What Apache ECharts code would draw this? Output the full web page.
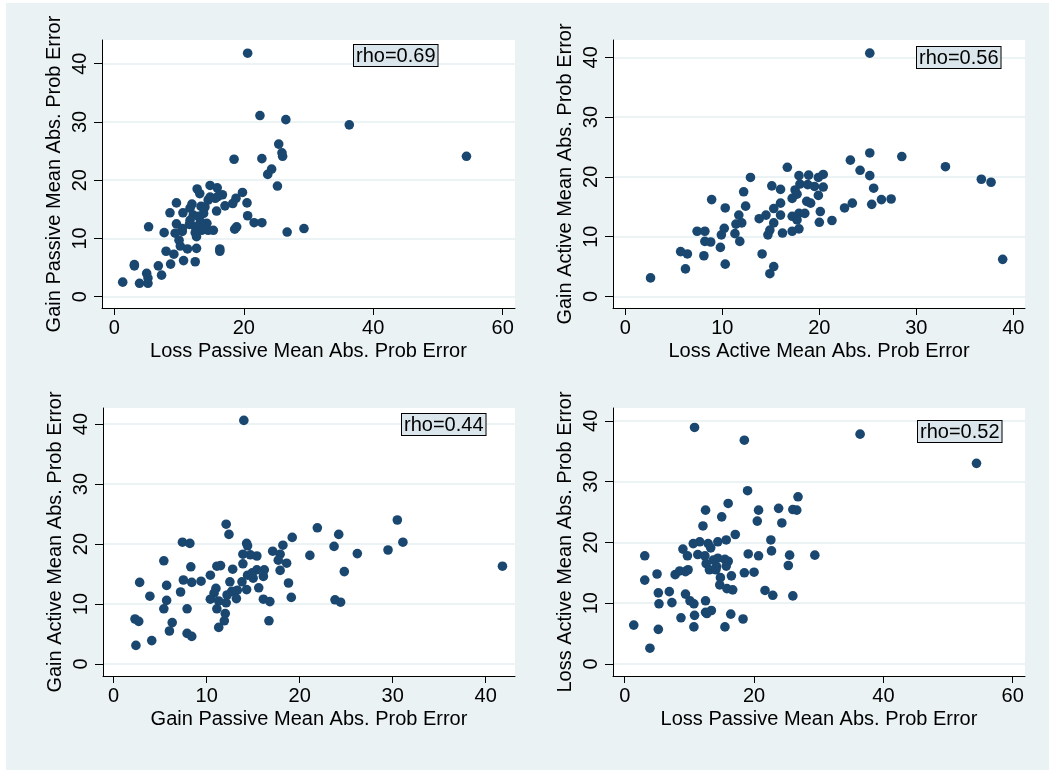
<!DOCTYPE html>
<html><head><meta charset="utf-8">
<script src="https://cdn.jsdelivr.net/npm/echarts@6/dist/echarts.min.js"></script>
<style>html,body{margin:0;padding:0;background:#fff}#c{width:1049px;height:770px}</style>
</head><body><div id="c"></div><script>
// Panel 1: Loss Passive (x) vs Gain Passive (y)
const p1x=[20.6,22.5,26.5,36.3,54.4,25.4,25.9,26.0,18.5,22.8,24.3,23.7,25.2,26.7,29.3,20.5,20.6,21.6,22.8,19.8,18.8,18.3,18.6,18.9,16.3,16.3,14.8,15.9,16.7,12.8,13.2,14.5,15.6,17.1,15.8,12.0,9.6,8.6,10.6,11.7,12.2,13.4,13.8,13.3,12.5,14.3,15.3,13.5,12.7,9.6,10.5,7.7,9.4,10.0,5.3,10.2,11.3,12.7,8.0,9.2,8.7,10.7,12.5,6.8,7.3,3.1,3.1,5.0,3.9,5.2,1.3,5.2,11.7,13.0,13.5,14.5,12.5,11.6,10.5,14.0,14.8,16.0];
const p1y=[41.8,31.1,30.4,29.5,24.1,26.2,24.7,24.1,23.6,23.7,21.9,21.0,19.0,11.1,11.7,16.1,13.9,12.7,12.7,17.9,16.9,16.0,11.6,12.0,8.2,7.8,19.1,18.7,17.5,18.5,17.7,16.6,16.9,15.6,14.7,15.9,16.1,14.4,14.4,15.2,14.0,15.5,14.3,12.9,12.0,12.6,11.4,11.4,10.3,12.5,11.7,11.0,10.9,9.7,12.0,8.7,8.2,8.3,7.8,7.3,5.6,6.2,6.0,5.3,3.7,5.5,5.3,4.0,2.3,2.3,2.5,3.2,13.1,13.8,12.5,11.4,11.0,12.4,11.2,15.4,17.1,17.2];
// Panel 2: Loss Active (x) vs Gain Active (y)
const p2x=[25.2,25.2,28.5,33.0,36.7,37.7,38.9,23.2,24.2,25.2,25.6,25.4,26.4,27.4,22.6,23.4,16.7,17.9,18.9,19.9,20.4,19.5,20.4,19.9,18.0,17.7,15.1,16.0,17.2,18.7,19.1,20.1,20.0,21.3,16.0,15.3,14.5,13.8,16.0,17.2,17.9,18.5,17.7,15.3,14.9,14.7,16.2,17.2,17.9,12.9,12.2,12.4,10.3,11.7,12.0,11.4,11.3,11.8,10.2,9.9,9.8,8.9,7.4,8.2,8.2,8.8,5.7,6.4,8.1,6.2,10.3,14.1,15.3,14.9,2.6,18.8,17.5];
const p2y=[40.7,24.0,23.4,21.7,19.6,19.1,6.2,22.8,21.1,20.2,18.1,15.4,16.2,16.3,14.8,15.6,21.6,20.2,20.3,19.9,20.4,18.4,18.3,16.9,18.8,17.1,18.5,17.9,16.4,15.9,15.6,14.2,12.4,12.7,15.6,14.7,13.6,13.0,13.6,13.4,13.9,13.9,12.8,12.3,11.1,10.3,10.6,10.9,11.3,19.9,17.5,15.1,14.8,13.6,12.3,12.1,10.5,9.2,11.4,10.3,8.2,16.2,10.9,10.9,9.2,9.1,7.5,7.1,6.8,4.6,5.4,7.1,5.0,3.8,3.1,18.7,17.8];
// Panel 3: Gain Passive (x) vs Gain Active (y)
const p3x=[14.0,41.8,30.5,31.1,29.5,26.2,24.8,23.8,24.4,21.9,24.2,23.7,21.1,19.2,18.2,17.1,17.9,17.7,18.6,17.9,18.8,19.1,16.7,16.8,16.1,15.6,16.2,16.1,15.4,15.0,15.4,14.7,13.9,14.3,14.4,13.9,12.1,12.4,11.1,11.5,12.8,10.4,14.4,13.8,12.5,14.3,13.3,12.7,12.2,11.0,10.8,10.4,11.3,12.1,13.2,11.1,12.0,11.9,11.3,9.4,8.3,8.4,7.5,7.4,8.2,5.4,5.7,7.2,5.7,5.4,7.9,6.3,6.0,7.9,8.4,2.8,3.9,2.3,2.7,4.1,2.4,14.9];
const p3y=[40.6,16.3,24.0,20.3,19.0,18.4,15.4,10.7,10.3,22.7,21.6,19.6,18.1,21.1,19.8,18.8,18.3,17.3,16.8,15.6,13.5,11.1,7.2,10.4,10.8,12.7,15.7,14.6,15.7,14.3,18.0,18.2,18.3,20.1,19.7,16.7,23.3,21.6,16.3,16.4,15.8,14.8,14.8,13.7,13.7,12.4,12.3,12.1,11.5,12.6,11.8,10.8,10.5,10.2,10.9,9.2,8.4,7.2,6.1,13.8,16.2,13.6,14.0,20.3,20.1,17.2,13.1,12.0,10.6,9.2,9.2,6.9,5.5,5.1,4.6,13.6,11.3,7.5,7.1,3.9,3.1,15.2];
// Panel 4: Loss Passive (x) vs Loss Active (y)
const p4x=[10.8,18.5,36.4,54.4,19.0,26.8,16.0,12.5,20.7,23.8,26.0,26.6,15.0,20.5,24.3,12.1,17.1,22.6,15.7,14.4,12.9,11.6,10.6,13.3,9.0,9.7,11.3,12.4,19.1,20.7,22.7,25.5,29.4,25.3,3.1,3.1,5.0,5.2,6.9,5.3,7.3,7.8,8.5,9.8,9.4,9.4,10.1,10.7,12.5,12.5,13.4,12.7,10.8,8.7,10.7,15.5,16.4,18.3,5.2,1.4,3.9,12.6,13.7,14.4,15.5,16.0,13.1,14.2,15.7,16.5,14.8,14.7,15.8,16.7,18.5,20.0,21.7,22.9,26.0,14.1];
const p4y=[38.9,36.8,37.8,33.0,28.5,27.5,26.4,25.3,25.3,25.6,25.4,25.3,24.2,23.5,23.2,22.7,21.3,20.4,20.4,20.1,19.8,20.1,19.8,19.1,18.9,17.8,18.0,17.8,18.1,17.8,18.6,17.9,17.9,16.2,17.8,13.8,14.8,11.7,11.9,9.9,10.1,14.7,15.3,15.5,15.2,11.5,10.4,9.9,10.4,8.5,8.8,8.3,8.0,7.6,6.1,6.1,8.2,7.4,5.7,6.4,2.6,16.5,17.1,17.4,17.2,16.9,15.5,16.0,16.1,14.5,14.2,13.0,12.4,12.2,15.0,15.1,12.1,11.3,11.2,15.5];

const xTicks60=[0,20,40,60];
const xTicks40=[0,10,20,30,40];
const yTicks=[0,10,20,30,40];
const xTitles=['Loss Passive Mean Abs. Prob Error','Loss Active Mean Abs. Prob Error','Gain Passive Mean Abs. Prob Error','Loss Passive Mean Abs. Prob Error'];
const yTitles=['Gain Passive Mean Abs. Prob Error','Gain Active Mean Abs. Prob Error','Gain Active Mean Abs. Prob Error','Loss Active Mean Abs. Prob Error'];
const rhoLabels=['rho=0.69','rho=0.56','rho=0.44','rho=0.52'];

const FONT='"Liberation Sans", Arial, Helvetica, sans-serif';
const layout=[
  {grid:{left:102,top:40,width:413,height:268},xr:[-1.9,61.9],yr:[-1.94,44.07],xt:xTicks60,rho:[354,45]},
  {grid:{left:613,top:40,width:412,height:268},xr:[-1.27,41.2],yr:[-1.94,42.9],xt:xTicks40,rho:[917,47]},
  {grid:{left:103,top:408,width:412,height:268},xr:[-1.14,43.15],yr:[-2.0,42.67],xt:xTicks40,rho:[402,414]},
  {grid:{left:613,top:408,width:412,height:268},xr:[-1.81,61.9],yr:[-1.97,42.1],xt:xTicks60,rho:[918,421]}
];
const xs=[p1x,p2x,p3x,p4x], ys=[p1y,p2y,p3y,p4y];

const option={
  backgroundColor:'#fff',
  animation:false,
  graphic:[{type:'rect',z:-10,shape:{x:6,y:3,width:1043,height:767},style:{fill:'#EAF2F3'},silent:true}],
  grid:[],xAxis:[],yAxis:[],series:[]
};
layout.forEach((L,i)=>{
  option.grid.push(Object.assign({show:true,backgroundColor:'#fff',borderWidth:0,containLabel:false},L.grid));
  option.xAxis.push({gridIndex:i,type:'value',min:L.xr[0],max:L.xr[1],
    axisLine:{show:true,onZero:false,lineStyle:{color:'#000',width:1}},
    axisTick:{show:true,length:7,customValues:L.xt,lineStyle:{color:'#000'}},
    axisLabel:{customValues:L.xt,margin:10,fontSize:20,color:'#000',fontFamily:FONT},
    splitLine:{show:false},
    name:xTitles[i],nameLocation:'middle',nameGap:33,
    nameTextStyle:{fontSize:20,color:'#000',fontFamily:FONT}});
  option.yAxis.push({gridIndex:i,type:'value',min:L.yr[0],max:L.yr[1],
    axisLine:{show:true,onZero:false,lineStyle:{color:'#000',width:1}},
    axisTick:{show:true,length:8,customValues:yTicks,lineStyle:{color:'#000'}},
    axisLabel:{customValues:yTicks,rotate:90,margin:12,fontSize:20,color:'#000',fontFamily:FONT},
    splitLine:{show:true,lineStyle:{color:'#E6EFF1',width:1.5}},
    name:yTitles[i],nameLocation:'middle',nameGap:38,nameRotate:90,
    nameTextStyle:{fontSize:20,color:'#000',fontFamily:FONT}});
  option.series.push({type:'scatter',xAxisIndex:i,yAxisIndex:i,symbol:'circle',symbolSize:9.6,
    itemStyle:{color:'#1a476f',opacity:1},
    data:xs[i].map((v,k)=>[v,ys[i][k]])});
  option.graphic.push({type:'text',z:10,x:L.rho[0],y:L.rho[1],
    style:{text:rhoLabels[i],font:'20px '+FONT,fill:'#000',backgroundColor:'#DAE6EC',borderColor:'#000',borderWidth:1,padding:[1,2,0,2],verticalAlign:'top',align:'left'}});
});
const chart=echarts.init(document.getElementById('c'),null,{renderer:'canvas'});
chart.setOption(option);
</script></body></html>
